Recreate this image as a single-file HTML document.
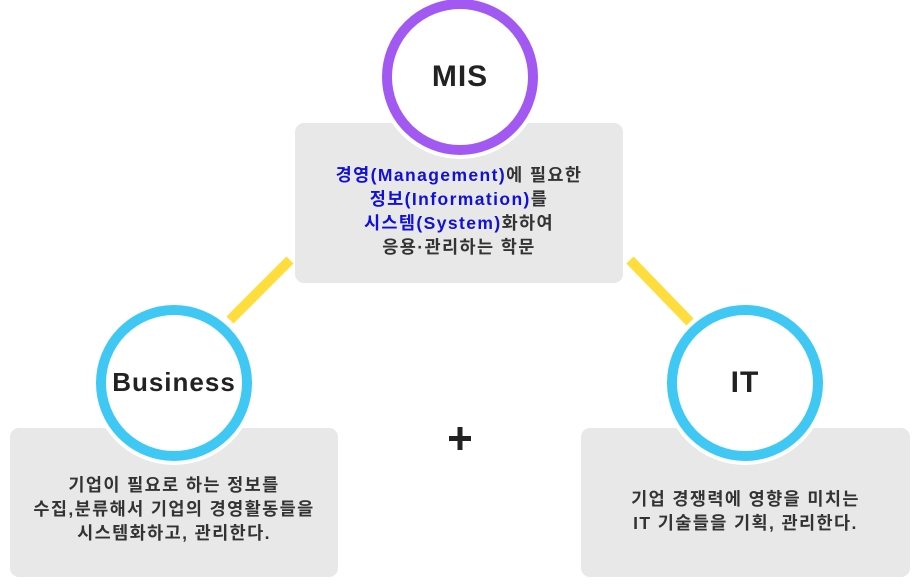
<!DOCTYPE html>
<html><head><meta charset="utf-8"><style>
body{margin:0;width:920px;height:585px;background:#fff;position:relative;overflow:hidden;font-family:"Liberation Sans","Noto Sans CJK KR",sans-serif;}
svg{position:absolute;left:0;top:0}
.t{position:absolute;text-align:center;font-size:17.5px;line-height:24px;color:#333;font-weight:bold;letter-spacing:1.4px;white-space:nowrap;}
.b{color:#1010d8}
.lab{position:absolute;text-align:center;font-weight:bold;color:#222;font-size:30px;letter-spacing:1px;}
</style></head><body>
<svg width="920" height="585">
<line x1="230" y1="320" x2="290" y2="260" stroke="#ffdd3c" stroke-width="10"/>
<line x1="630" y1="260" x2="690" y2="322" stroke="#ffdd3c" stroke-width="10"/>
<rect x="295" y="123" width="328" height="160" rx="9" fill="#e8e8e8"/>
<rect x="10" y="428" width="328" height="149" rx="9" fill="#e8e8e8"/>
<rect x="581" y="428" width="329" height="149" rx="9" fill="#e8e8e8"/>
<circle cx="460" cy="77" r="82" fill="#fff"/>
<circle cx="460" cy="77" r="73" fill="#fff" stroke="#a259f2" stroke-width="10"/>
<circle cx="174" cy="383" r="82" fill="#fff"/>
<circle cx="174" cy="383" r="73" fill="#fff" stroke="#40c8f4" stroke-width="10"/>
<circle cx="745" cy="383" r="82" fill="#fff"/>
<circle cx="745" cy="383" r="73" fill="#fff" stroke="#40c8f4" stroke-width="10"/>
<rect x="449" y="436" width="22" height="5" fill="#222"/>
<rect x="457.5" y="427" width="5" height="23" fill="#222"/>
</svg>
<div class="lab" style="left:380px;top:60px;width:160px;">MIS</div>
<div class="lab" style="left:94px;top:367px;width:160px;font-size:26px;">Business</div>
<div class="lab" style="left:665px;top:366px;width:160px;">IT</div>
<div class="t" style="left:295px;top:163px;width:328px;"><span class="b">경영(Management)</span>에 필요한<br><span class="b">정보(Information)</span>를<br><span class="b">시스템(System)</span>화하여<br>응용·관리하는 학문</div>
<div class="t" style="left:10px;top:473px;width:328px;">기업이 필요로 하는 정보를<br>수집,분류해서 기업의 경영활동들을<br>시스템화하고, 관리한다.</div>
<div class="t" style="left:581px;top:487px;width:329px;">기업 경쟁력에 영향을 미치는<br>IT 기술들을 기획, 관리한다.</div>
</body></html>
